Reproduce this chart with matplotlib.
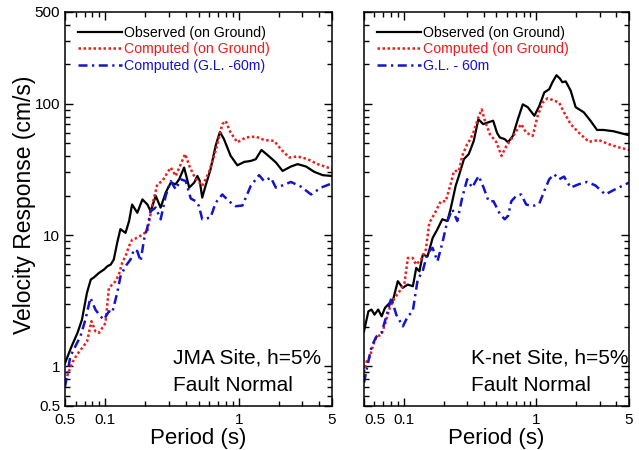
import numpy as np
import matplotlib.pyplot as plt
from matplotlib.ticker import FixedLocator, NullFormatter

plt.rcParams['font.family'] = ['Liberation Sans', 'DejaVu Sans']

# JMA site, fault normal
t_obs_jma = [0.050, 0.056, 0.062, 0.067, 0.073, 0.078, 0.082, 0.090, 0.098, 0.104, 0.110, 0.116,
             0.123, 0.130, 0.142, 0.151, 0.159, 0.174, 0.190, 0.207, 0.219, 0.239, 0.260, 0.284,
             0.310, 0.337, 0.358, 0.390, 0.426, 0.464, 0.490, 0.510, 0.533, 0.564, 0.615, 0.671,
             0.723, 0.775, 0.870, 0.977, 1.10, 1.23, 1.34, 1.48, 1.69, 1.90, 2.13, 2.46, 2.76,
             3.19, 3.68, 4.26, 5.0]
v_obs_jma = [1.06, 1.42, 1.80, 2.27, 3.63, 4.59, 4.75, 5.16, 5.47, 5.80, 5.97, 6.52,
             8.75, 11.1, 10.4, 12.8, 17.1, 14.8, 18.7, 17.1, 15.2, 19.9, 16.2, 21.1,
             25.1, 24.4, 26.6, 32.7, 23.0, 25.1, 28.2, 26.0, 19.3, 23.7, 31.7, 47.8,
             61.1, 53.8, 40.1, 34.0, 36.1, 36.7, 37.8, 44.5, 39.7, 35.7, 30.8, 33.3, 34.7,
             33.3, 30.3, 28.6, 28.2]

t_cmp_jma = [0.050, 0.0518, 0.0564, 0.0615, 0.0671, 0.0732, 0.0789, 0.0845, 0.0896, 0.0949, 0.1005,
             0.1066, 0.1128, 0.1195, 0.1267, 0.1341, 0.142, 0.1506, 0.1594, 0.1739, 0.1896,
             0.2067, 0.2254, 0.2458, 0.268, 0.2922, 0.3095, 0.3374, 0.368, 0.397, 0.43, 0.47,
             0.533, 0.597, 0.671, 0.753, 0.798, 0.87, 0.977, 1.127, 1.342, 1.548, 1.841, 2.07,
             2.39, 2.76, 3.28, 3.9, 4.64, 5.0]
v_cmp_jma = [0.78, 0.84, 1.06, 1.23, 1.38, 1.55, 2.21, 1.85, 1.80, 1.96, 2.14,
             3.97, 4.2, 4.46, 5.02, 6.16, 6.9, 8.22, 9.26, 9.53, 10.1,
             10.7, 17.1, 24.4, 25.8, 29.9, 32.7, 28.2, 34.7, 41.4, 33.0, 27.3,
             23.7, 29.9, 43.7, 70.0, 74.0, 60.3, 50.9, 55.4, 56.3, 53.0, 52.2, 45.0,
             39.0, 39.7, 37.9, 34.7, 32.7, 32.1]

t_gl_jma = [0.050, 0.0548, 0.0597, 0.0652, 0.0711, 0.0775, 0.0845, 0.0921, 0.0977, 0.1066, 0.1128,
            0.123, 0.1303, 0.142, 0.1548, 0.1642, 0.1739, 0.1842, 0.1953, 0.2067, 0.2189,
            0.2387, 0.2603, 0.2838, 0.3095, 0.3374, 0.368, 0.401, 0.437, 0.477, 0.503, 0.533,
            0.615, 0.671, 0.753, 0.845, 0.948, 1.066, 1.23, 1.42, 1.548, 1.739, 1.896, 2.127,
            2.458, 2.92, 3.48, 4.13, 5.0]
v_gl_jma = [0.70, 1.19, 1.42, 1.69, 2.27, 3.33, 2.71, 2.41, 2.27, 2.63, 2.56,
            3.63, 4.87, 5.8, 6.52, 7.77, 7.55, 6.33, 9.26, 11.4, 15.2,
            16.2, 13.2, 19.9, 25.8, 22.3, 26.6, 25.8, 19.0, 18.1, 16.7, 13.2,
            13.6, 17.6, 20.4, 18.1, 16.6, 16.8, 23.7, 28.6, 25.8, 27.4, 23.0, 23.9,
            25.4, 23.4, 20.4, 23.0, 24.8]

# K-net site, fault normal
t_obs_knet = [0.050, 0.054, 0.057, 0.060, 0.064, 0.068, 0.072, 0.076, 0.083, 0.090, 0.098, 0.107,
              0.117, 0.124, 0.131, 0.139, 0.151, 0.165, 0.179, 0.195, 0.213, 0.225, 0.246, 0.260,
              0.284, 0.309, 0.337, 0.365, 0.397, 0.433, 0.472, 0.505, 0.530, 0.577, 0.611, 0.665,
              0.725, 0.790, 0.861, 0.966, 1.053, 1.148, 1.25, 1.323, 1.418, 1.503, 1.571, 1.666,
              1.815, 1.98, 2.28, 2.56, 2.87, 3.21, 3.82, 4.41, 5.0]
v_obs_knet = [1.85, 2.63, 2.71, 2.48, 2.71, 2.41, 2.79, 2.96, 3.23, 4.46, 3.97, 4.2,
              4.08, 5.63, 5.3, 7.1, 6.9, 9.53, 11.06, 13.2, 12.8, 15.7, 23.7, 28.2,
              37.9, 41.4, 52.2, 76.2, 70.0, 72.2, 74.3, 60.0, 55.4, 53.8, 50.9, 57.0,
              76.2, 99.0, 94.2, 81.0, 96.3, 122, 129, 146, 165, 156, 146, 148,
              126, 94.2, 86.1, 74.3, 63.2, 63.2, 61.8, 59.5, 57.6]

t_cmp_knet = [0.050, 0.0523, 0.0555, 0.0587, 0.0621, 0.0677, 0.0718, 0.0782, 0.0852, 0.0929, 0.1012,
              0.1071, 0.1167, 0.1235, 0.1346, 0.1467, 0.1555, 0.1695, 0.1899, 0.2069, 0.2254,
              0.239, 0.2604, 0.2757, 0.3004, 0.3179, 0.3347, 0.3647, 0.3865, 0.409, 0.446, 0.50,
              0.5455, 0.594, 0.647, 0.705, 0.769, 0.838, 0.938, 1.023, 1.114, 1.214, 1.323,
              1.485, 1.618, 1.815, 2.09, 2.49, 2.95, 3.51, 4.17, 5.0]
v_cmp_knet = [0.90, 1.09, 1.19, 1.46, 1.69, 1.74, 2.08, 2.79, 3.33, 3.74, 4.33,
              6.7, 6.7, 5.97, 6.52, 7.77, 12.4, 14.4, 18.1, 18.1, 24.4,
              30.8, 30.8, 40.1, 49.3, 53.8, 60.3, 78.6, 90.6, 74.3, 58.6, 50.9,
              40.1, 47.8, 53.8, 62.0, 70.0, 60.3, 57.0, 81.0, 102, 110, 107,
              102, 86.0, 70.0, 60.3, 51.3, 53.0, 49.3, 46.6, 44.6]

t_gl_knet = [0.050, 0.0518, 0.057, 0.0621, 0.0677, 0.0738, 0.0804, 0.0876, 0.0983, 0.1071, 0.1167,
             0.1272, 0.1386, 0.151, 0.1646, 0.1794, 0.1954, 0.213, 0.2321, 0.253, 0.2757,
             0.3004, 0.3273, 0.367, 0.400, 0.436, 0.475, 0.530, 0.577, 0.611, 0.647, 0.705,
             0.769, 0.838, 0.938, 1.053, 1.148, 1.25, 1.362, 1.485, 1.618, 1.815, 2.09, 2.41,
             2.79, 3.31, 3.93, 5.0]
v_gl_knet = [0.75, 0.90, 1.42, 1.69, 1.80, 2.41, 3.33, 2.48, 2.02, 2.41, 2.63,
             4.59, 5.3, 7.33, 8.0, 6.33, 8.75, 12.8, 15.7, 12.8, 19.3,
             26.6, 23.0, 28.2, 23.0, 18.1, 18.1, 14.5, 13.2, 14.0, 18.1, 19.9,
             20.4, 17.1, 16.6, 17.4, 21.7, 26.6, 29.1, 26.6, 27.9, 23.0, 24.4, 25.4,
             23.9, 20.4, 22.3, 25.1]

x_ticks = [0.05, 0.1, 1, 5]
x_ticklabels = ['0.5', '0.1', '1', '5']
y_ticks = [0.5, 1, 10, 100, 500]
y_ticklabels = ['0.5', '1', '10', '100', '500']

red = '#ee1c1c'
blue = '#1414cc'

fig = plt.figure(figsize=(6.39, 4.5), dpi=100)
ax1 = fig.add_axes([0.1017, 0.0978, 0.418, 0.8756])
ax2 = fig.add_axes([0.5696, 0.0978, 0.4147, 0.8756])

panels = [
    (ax1, t_obs_jma, v_obs_jma, t_cmp_jma, v_cmp_jma, t_gl_jma, v_gl_jma,
     'Computed (G.L. -60m)', 'JMA Site, h=5%'),
    (ax2, t_obs_knet, v_obs_knet, t_cmp_knet, v_cmp_knet, t_gl_knet, v_gl_knet,
     'G.L. - 60m', 'K-net Site, h=5%'),
]

for ax, to, vo, tc, vc, tg, vg, gl_label, note in panels:
    ax.plot(to, vo, color='black', lw=1.6, label='Observed (on Ground)')
    ax.plot(tc, vc, color=red, lw=1.8, ls=(0, (1, 1)), label='Computed (on Ground)')
    ax.plot(tg, vg, color=blue, lw=1.8, ls=(0, (3.6, 1.8, 0.9, 1.8)), label=gl_label)
    ax.set_xscale('log')
    ax.set_yscale('log')
    ax.set_xlim(0.05, 5)
    ax.set_ylim(0.5, 500)

    ax.xaxis.set_major_locator(FixedLocator(x_ticks))
    ax.xaxis.set_minor_locator(FixedLocator([0.06, 0.07, 0.08, 0.09, 0.2, 0.3, 0.4, 0.5,
                                             0.6, 0.7, 0.8, 0.9, 2, 3, 4]))
    ax.set_xticklabels(x_ticklabels)
    ax.xaxis.set_minor_formatter(NullFormatter())
    ax.yaxis.set_major_locator(FixedLocator(y_ticks))
    ax.yaxis.set_minor_locator(FixedLocator([0.6, 0.7, 0.8, 0.9] +
                                            [k * d for d in (1, 10) for k in range(2, 10)] +
                                            [200, 300, 400]))
    ax.yaxis.set_minor_formatter(NullFormatter())
    ax.set_yticklabels(y_ticklabels)
    ax.tick_params(which='both', direction='in', top=True, right=True, width=1.0,
                   labelsize=11)
    ax.tick_params(axis='x', pad=5)
    ax.tick_params(which='major', length=6)
    ax.tick_params(which='minor', length=3.5)
    for s in ax.spines.values():
        s.set_linewidth(1.1)

    ax.set_xlabel('Period (s)', fontsize=16, labelpad=1)
    ax.legend(loc='upper left', bbox_to_anchor=(0.012, 0.99), frameon=False, fontsize=10.2,
              handlelength=3.1, handletextpad=0.15, labelspacing=0.18, borderaxespad=0.3,
              labelcolor='linecolor')
    ax.text(0.405, 0.122, note, transform=ax.transAxes, fontsize=15, ha='left', va='center')
    ax.text(0.405, 0.053, 'Fault Normal', transform=ax.transAxes, fontsize=15,
            ha='left', va='center')

ax2.tick_params(labelleft=False)
for lab in ax2.get_xticklabels():
    if lab.get_text() == '0.5':
        lab.set_horizontalalignment('left')

fig.text(25 / 639, 0.544, 'Velocity Response (cm/s)', rotation=90, fontsize=16.5,
         ha='center', va='center')

fig.savefig('out.png', dpi=100)
